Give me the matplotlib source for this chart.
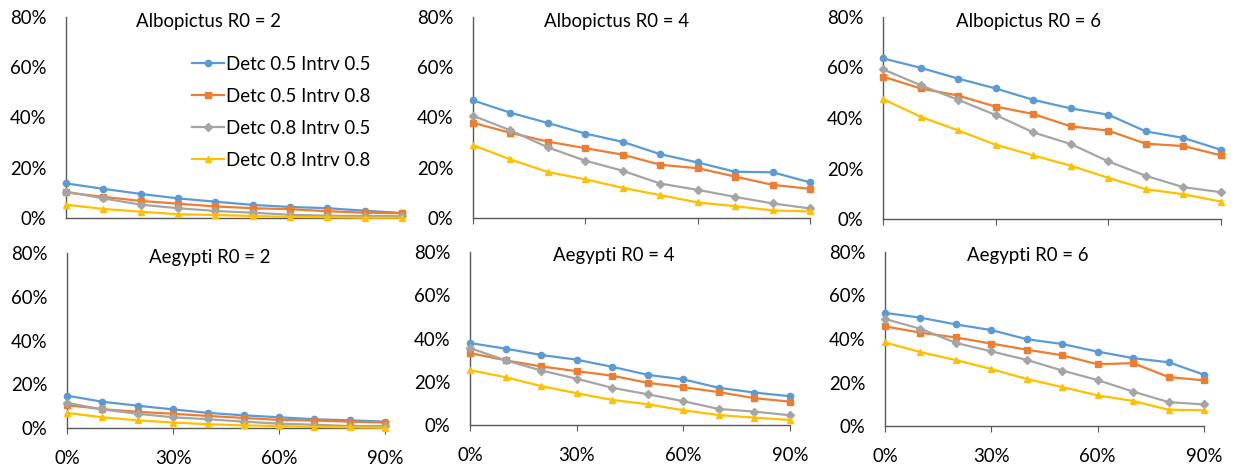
import matplotlib.pyplot as plt
from matplotlib.ticker import PercentFormatter

# Proporcja kontroli (oś X) i etykiety serii
kontrola = [0, 10, 20, 30, 40, 50, 60, 70, 80, 90]
serie = ["Detc 0.5 Intrv 0.5", "Detc 0.5 Intrv 0.8", "Detc 0.8 Intrv 0.5", "Detc 0.8 Intrv 0.8"]
kolory = ["#5B9BD5", "#ED7D31", "#A5A5A5", "#FFC000"]
markery = ["o", "s", "D", "^"]

tytuly = ["Albopictus R0 = 2", "Albopictus R0 = 4", "Albopictus R0 = 6",
          "Aegypti R0 = 2", "Aegypti R0 = 4", "Aegypti R0 = 6"]

# Wartości (w %)
albo_r2 = [
    [13.8, 11.6, 9.6, 7.8, 6.5, 5.2, 4.4, 3.9, 2.9, 2.0],
    [10.2, 8.4, 6.8, 5.7, 4.6, 3.9, 3.5, 2.7, 2.1, 1.9],
    [10.5, 7.8, 5.3, 3.9, 2.8, 2.1, 1.3, 0.9, 0.8, 0.7],
    [5.3, 3.6, 2.5, 1.5, 1.2, 0.8, 0.4, 0.3, 0.1, 0.1],
]
albo_r4 = [
    [46.8, 41.9, 37.8, 33.6, 30.3, 25.4, 22.1, 18.4, 18.2, 14.2],
    [37.9, 33.9, 30.4, 27.8, 25.2, 21.2, 19.8, 16.5, 13.2, 11.6],
    [40.7, 34.9, 28.1, 22.8, 18.8, 13.7, 11.2, 8.4, 5.8, 3.8],
    [29.0, 23.3, 18.3, 15.4, 12.0, 9.1, 6.2, 4.7, 3.0, 2.6],
]
albo_r6 = [
    [63.6, 59.9, 55.6, 51.7, 47.2, 43.8, 41.3, 34.7, 32.1, 27.4],
    [56.4, 51.7, 48.9, 44.5, 41.6, 36.7, 35.0, 29.8, 28.9, 25.2],
    [59.3, 53.0, 47.2, 41.2, 34.3, 29.7, 22.8, 17.1, 12.6, 10.6],
    [47.5, 40.5, 35.1, 29.4, 25.2, 21.1, 16.3, 11.8, 9.8, 6.9],
]
aeg_r2 = [
    [14.8, 12.0, 10.2, 8.5, 6.9, 5.8, 4.9, 4.0, 3.5, 2.9],
    [10.5, 8.6, 7.4, 6.5, 5.5, 4.6, 3.7, 3.4, 2.9, 2.5],
    [11.5, 8.5, 6.5, 4.9, 4.0, 2.9, 2.0, 1.5, 0.9, 0.9],
    [6.9, 4.9, 3.5, 2.5, 1.7, 1.2, 0.9, 0.5, 0.3, 0.1],
]
aeg_r4 = [
    [37.9, 35.3, 32.4, 30.2, 26.9, 23.2, 21.1, 17.2, 15.0, 13.3],
    [33.3, 29.9, 27.1, 24.9, 22.8, 19.5, 17.5, 15.2, 12.4, 10.8],
    [35.6, 29.9, 25.2, 21.4, 17.2, 14.2, 11.0, 7.4, 6.2, 4.5],
    [25.4, 22.1, 18.0, 14.7, 11.6, 9.6, 6.8, 4.6, 3.4, 2.3],
]
aeg_r6 = [
    [52.0, 49.8, 46.7, 44.1, 39.9, 37.7, 34.2, 31.2, 29.3, 23.6],
    [45.8, 42.9, 40.7, 37.9, 35.1, 32.5, 28.4, 28.9, 22.5, 21.0],
    [49.2, 44.7, 38.2, 34.3, 30.4, 25.5, 21.1, 15.8, 11.0, 9.9],
    [38.4, 34.0, 30.3, 26.2, 21.6, 17.9, 14.1, 11.5, 7.5, 7.2],
]
dane = [albo_r2, albo_r4, albo_r6, aeg_r2, aeg_r4, aeg_r6]

W, H = 1238, 466
plt.rcParams['font.family'] = ['Lato', 'DejaVu Sans']

# Położenie osi w pikselach: (lewo, prawo, góra=80%, dół=0%) oraz środek tytułu
osie_px = [(66, 402, 17, 218), (473, 810, 17, 218), (883, 1221, 17, 219),
           (67, 385, 253, 428), (470, 790, 252, 425), (885, 1204, 252, 426)]
tytul_px = [(209, 21), (617, 21), (1028, 21), (210, 257), (614, 255), (1028, 256)]

fig = plt.figure(figsize=(W / 100, H / 100), dpi=100)
os_kolor = "#595959"
rozm = 13.4

for i, (wart, (l, r, t, b)) in enumerate(zip(dane, osie_px)):
    ax = fig.add_axes([l / W, 1 - b / H, (r - l) / W, (b - t) / H])
    for s, y in enumerate(wart):
        ax.plot(kontrola, y, color=kolory[s], marker=markery[s],
                markersize=4.5 if markery[s] != "D" else 3.8,
                linewidth=1.6, label=serie[s], clip_on=False, zorder=3)
    ax.set_xlim(0, 90)
    ax.set_ylim(0, 80)
    ax.spines['top'].set_visible(False)
    ax.spines['right'].set_visible(False)
    ax.spines['left'].set_color(os_kolor)
    ax.spines['bottom'].set_color(os_kolor)
    ax.spines['left'].set_linewidth(1.0)
    ax.spines['bottom'].set_linewidth(1.0)
    ax.set_yticks([0, 20, 40, 60, 80])
    ax.yaxis.set_major_formatter(PercentFormatter(decimals=0))
    ax.tick_params(axis='y', length=0, pad=14, labelsize=rozm, labelcolor="#000000")
    ax.set_yticks([80], minor=True)
    ax.tick_params(axis='y', which='minor', length=4, color=os_kolor, direction='out')
    ax.set_xticks([0, 30, 60, 90])
    ax.xaxis.set_major_formatter(PercentFormatter(decimals=0))
    if i < 3:
        ax.tick_params(axis='x', length=0 if i == 0 else 4, color=os_kolor,
                       labelbottom=False)
    else:
        ax.tick_params(axis='x', length=4, color=os_kolor, pad=12,
                       labelsize=rozm, labelcolor="#000000")
    ax.patch.set_alpha(0)
    fig.text(tytul_px[i][0] / W, 1 - tytul_px[i][1] / H, tytuly[i],
             ha='center', va='center', fontsize=rozm, color="#000000")
    if i == 0:
        ax.legend(loc='upper left', bbox_to_anchor=(192 / W, 1 - 56 / H),
                  bbox_transform=fig.transFigure, frameon=False, fontsize=rozm,
                  handlelength=1.7, handletextpad=0.1, labelspacing=0.8,
                  borderpad=0, borderaxespad=0)

fig.savefig("out.png", dpi=100)
